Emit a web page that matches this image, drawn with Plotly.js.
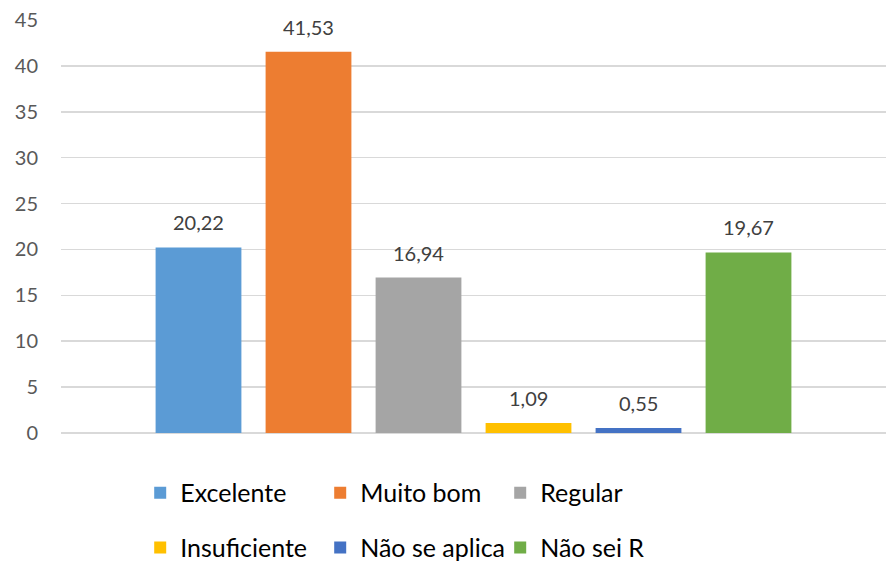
<!DOCTYPE html>
<html><head><meta charset="utf-8">
<script src="https://cdn.plot.ly/plotly-3.0.1.min.js"></script>
<style>html,body{margin:0;padding:0;background:#fff}</style>
</head><body><div id="chart" style="width:887px;height:564px"></div>
<script>
const categories = ["Excelente", "Muito bom", "Regular", "Insuficiente", "Não se aplica", "Não sei R"];
const values = [20.22, 41.53, 16.94, 1.09, 0.55, 19.67];
const colors = ["#5b9bd5", "#ed7d31", "#a5a5a5", "#ffc000", "#4472c4", "#70ad47"];
const legendRow = ["legend", "legend", "legend", "legend2", "legend2", "legend2"];
const yTicks = [0, 5, 10, 15, 20, 25, 30, 35, 40, 45];

const FONT = "Lato, 'Open Sans', sans-serif";
const traces = categories.map((c, i) => ({
  type: "bar", name: c, x: [c], y: [values[i]],
  marker: {color: colors[i]}, width: 0.78,
  legend: legendRow[i], hoverinfo: "none"
}));
const annotations = categories.map((c, i) => ({
  x: c, y: values[i], xref: "x", yref: "y",
  text: values[i].toFixed(2).replace(".", ","),
  showarrow: false, yanchor: "middle", yshift: 25,
  font: {family: FONT, size: 20, color: "#404040"}
}));
const legendBase = {
  orientation: "h", xanchor: "left", yanchor: "middle",
  entrywidth: 135, entrywidthmode: "pixels", itemwidth: 30,
  font: {family: FONT, size: 25, color: "#000000"},
  bgcolor: "rgba(0,0,0,0)", traceorder: "normal"
};
const layout = {
  width: 887, height: 564,
  margin: {l: 61, r: 1, t: 20, b: 131, autoexpand: false},
  paper_bgcolor: "#ffffff", plot_bgcolor: "#ffffff",
  barmode: "overlay", showlegend: true,
  xaxis: {type: "category", categoryarray: categories, range: [-1.25, 6.25],
          showticklabels: false, showgrid: false, zeroline: false, showline: false, ticks: ""},
  yaxis: {range: [0, 45], tickvals: yTicks, ticktext: yTicks.map(String),
          showgrid: true, gridcolor: "#d9d9d9", gridwidth: 1.5,
          zeroline: true, zerolinecolor: "#d9d9d9", zerolinewidth: 1.5,
          showline: false, ticks: "", ticklabelstandoff: 22,
          tickfont: {family: FONT, size: 20, color: "#595959"}},
  legend: Object.assign({}, legendBase, {x: 0.096, y: -0.145}),
  legend2: Object.assign({}, legendBase, {x: 0.096, y: -0.278}),
  annotations: annotations
};
Plotly.newPlot("chart", traces, layout, {staticPlot: true, displayModeBar: false});
</script></body></html>
